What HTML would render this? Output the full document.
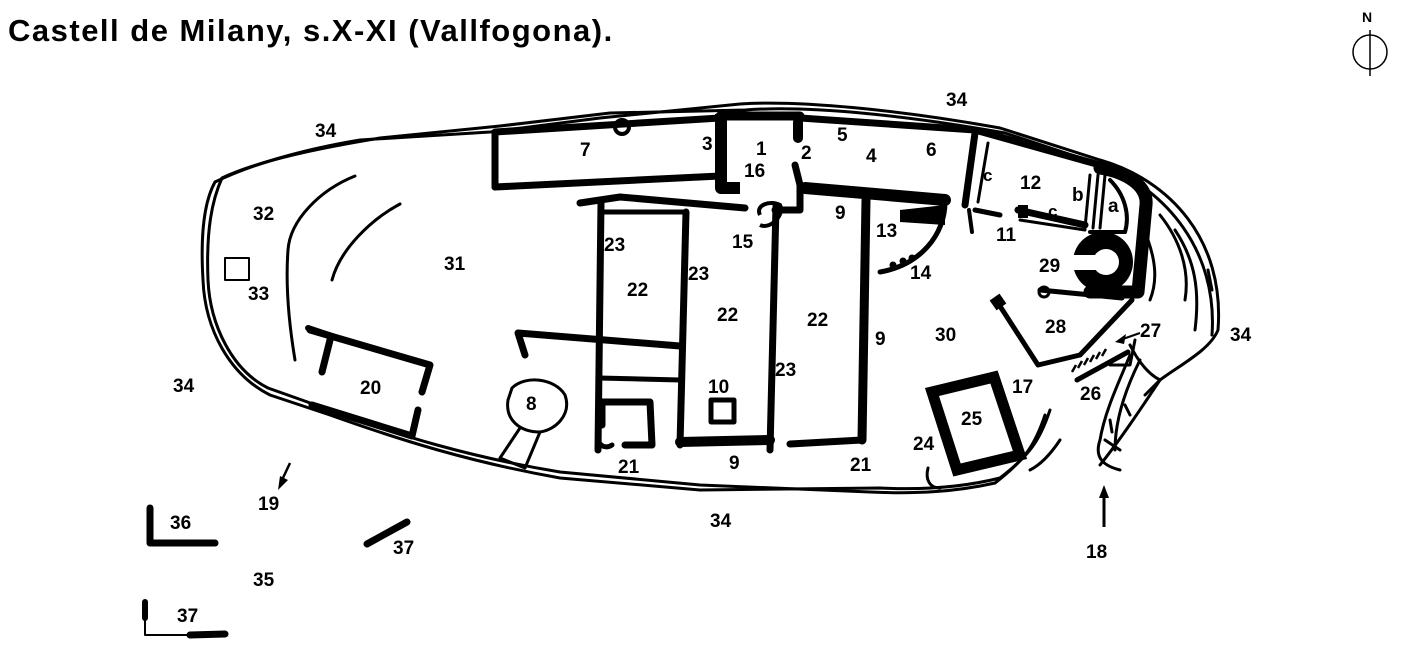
<!DOCTYPE html>
<html><head><meta charset="utf-8"><style>
html,body{margin:0;padding:0;background:#fff;}
svg{display:block}
text{font-family:"Liberation Sans",sans-serif;font-weight:bold;fill:#000}
</style></head><body>
<svg width="1416" height="672" viewBox="0 0 1416 672">
<text x="8" y="41" font-size="31" letter-spacing="1.5">Castell de Milany, s.X-XI (Vallfogona).</text>
<!-- north -->
<text x="1362" y="22" font-size="14">N</text>
<circle cx="1370" cy="52" r="17" fill="none" stroke="#000" stroke-width="1.5"/>
<line x1="1370" y1="30" x2="1370" y2="76" stroke="#000" stroke-width="1.5"/>

<g fill="none" stroke="#000" stroke-width="3" stroke-linecap="round" stroke-linejoin="round">
<path d="M215 182 C250 165 300 150 360 140 L490 132 L600 118 L740 104 C800 100 900 110 1000 128 L1100 160 C1170 180 1225 240 1218 330 C1210 350 1180 365 1160 380 C1140 410 1120 440 1100 465 M1050 410 C1040 440 1030 455 1000 478 C960 488 920 490 880 488 L700 490 L560 478 C470 462 400 440 330 415 L270 395 C230 375 205 330 203 280 C200 230 205 200 215 182"/>
<path d="M222 178 C260 160 320 148 380 138 L500 126 L610 113 L745 110 C810 105 910 116 1005 133 L1105 166 C1165 190 1218 250 1212 335 M1045 415 C1035 445 1025 460 995 483 C955 492 915 494 870 492 L700 485 L560 472 C470 457 400 436 330 410 L268 388 C232 370 210 325 208 280 C206 230 212 200 222 178"/>
<path d="M355 176 C320 190 290 220 288 250 C285 290 290 330 295 360"/>
<path d="M400 204 C370 220 340 250 332 280"/>
<rect x="225" y="258" width="24" height="22" stroke-width="2"/>
<path d="M512 388 C525 375 555 378 565 395 C572 415 555 430 540 432 C520 432 505 420 508 400 Z"/>
<path d="M520 428 L500 458 L525 468 L540 432"/>
<path d="M1160 215 C1180 240 1190 270 1185 300"/>
<path d="M1175 230 C1195 260 1200 290 1195 330"/>
<path d="M1148 240 C1155 260 1158 280 1150 300"/>
<path d="M1208 270 L1212 290"/>
<path d="M1135 340 L1130 365 L1110 365 M1130 355 C1120 380 1105 410 1100 440 C1095 455 1100 465 1120 470"/>
<path d="M1130 345 C1140 365 1150 375 1160 380 L1145 395 M1140 360 C1125 390 1115 420 1115 450 M1125 405 L1130 415 M1110 420 L1112 432 M1105 440 L1120 450"/>
<path d="M1060 440 C1050 455 1040 465 1030 470"/>
<path d="M928 468 C925 480 930 488 940 488"/>
</g>

<g fill="none" stroke="#000" stroke-width="7" stroke-linecap="round" stroke-linejoin="round">
<path d="M495 187 L495 132 L720 118"/>
<path d="M495 187 L720 176"/>
<path d="M800 118 L975 130 L1100 165"/>
<line x1="975" y1="133" x2="965" y2="205"/>
<line x1="969" y1="210" x2="972" y2="232" stroke-width="4"/>
<line x1="975" y1="210" x2="1000" y2="215" stroke-width="5"/>
<path d="M721 114 L721 188 L740 188" stroke-width="12" stroke-linecap="butt"/>
<line x1="720" y1="116" x2="800" y2="116" stroke-width="9"/>
<line x1="798" y1="122" x2="798" y2="138" stroke-width="10"/>
<path d="M795 165 L800 185 L800 210 L775 210"/>
<path d="M805 188 L945 200" stroke-width="12"/>
<path d="M945 202 C945 235 920 265 880 272" stroke-width="5"/>
<line x1="866" y1="200" x2="862" y2="440" stroke-width="9"/>
<line x1="776" y1="206" x2="770" y2="450"/>
<line x1="686" y1="212" x2="680" y2="445"/>
<line x1="601" y1="203" x2="598" y2="450"/>
<path d="M580 203 L620 197 L745 208"/>
<line x1="601" y1="212" x2="685" y2="212" stroke-width="5"/>
<path d="M525 355 L518 333 L680 346"/>
<line x1="599" y1="378" x2="680" y2="380" stroke-width="5"/>
<path d="M602 425 L602 402 L650 402 L652 445 L625 445"/>
<line x1="680" y1="442" x2="770" y2="440" stroke-width="10"/>
<line x1="790" y1="444" x2="862" y2="440"/>
<path d="M598 430 C595 445 605 450 612 445" stroke-width="5"/>
<rect x="711" y="400" width="23" height="22" stroke-width="5"/>
<path d="M310 330 L430 365 L422 392"/>
<path d="M330 340 L322 372" />
<path d="M312 405 L412 436 L418 410"/>
<path d="M932 392 L994 377 L1020 455 L957 470 Z" stroke-width="11" stroke-linejoin="miter"/>
<path d="M1018 210 L1085 225" />
<line x1="988" y1="143" x2="978" y2="202" stroke-width="3"/>
<line x1="1020" y1="220" x2="1085" y2="230" stroke-width="3"/>
<line x1="1090" y1="175" x2="1085" y2="228" stroke-width="3"/>
<line x1="1098" y1="175" x2="1093" y2="228" stroke-width="3"/>
<line x1="1105" y1="175" x2="1100" y2="228" stroke-width="3"/>
<path d="M996 300 L1038 365 L1080 355 L1132 300" stroke-width="5"/>
<path d="M1040 290 L1122 298" stroke-width="5"/>
<path d="M1077 380 L1128 352" stroke-width="5"/>
<path d="M150 508 L150 543 L215 543"/>
<line x1="367" y1="544" x2="407" y2="522"/>
<path d="M145 602 L145 618" stroke-width="6"/>
<path d="M145 618 L145 635 L190 635" stroke-width="2"/>
<line x1="190" y1="635" x2="225" y2="634"/>
<line x1="308" y1="328" x2="332" y2="336" stroke-width="6"/>
<!-- tower a -->
<path d="M1100 168 C1125 172 1148 185 1146 205 L1138 292 L1090 292" stroke-width="13"/>
<path d="M1090 232 L1125 232 C1130 215 1125 195 1110 180" stroke-width="4"/>
</g>
<circle cx="1044" cy="292" r="5" fill="none" stroke="#000" stroke-width="3"/>
<rect x="992" y="296" width="12" height="12" fill="#000" transform="rotate(-35 998 302)"/>
<path d="M900 210 L945 205 L945 225 L900 222 Z" fill="#000"/>
<circle cx="622" cy="127" r="7" fill="none" stroke="#000" stroke-width="4"/>
<path d="M760 215 C755 205 770 200 780 205 C785 215 770 230 760 225" fill="none" stroke="#000" stroke-width="4"/>
<circle cx="893" cy="265" r="3.5"/><circle cx="903" cy="261" r="3.5"/><circle cx="912" cy="258" r="3.5"/>
<path d="M1018 205 L1028 205 L1028 218 L1018 218 Z"/>
<!-- tower 29 -->
<circle cx="1103" cy="262" r="30"/>
<rect x="1066" y="255" width="36" height="15" fill="#fff"/>
<circle cx="1106" cy="262" r="13" fill="#fff"/>
<g stroke="#000" stroke-width="2.5">
<line x1="1072" y1="372" x2="1076" y2="365"/><line x1="1078" y1="368" x2="1082" y2="361"/><line x1="1084" y1="365" x2="1088" y2="358"/><line x1="1090" y1="362" x2="1094" y2="355"/><line x1="1096" y1="359" x2="1100" y2="352"/><line x1="1102" y1="356" x2="1106" y2="349"/>
</g>
<path d="M1140 333 L1120 340" stroke="#000" stroke-width="2"/><path d="M1115 342 L1126 334 L1124 344 Z"/>
<path d="M290 463 L282 480" stroke="#000" stroke-width="2.5"/><path d="M278 490 L280 476 L288 480 Z"/>
<path d="M1104 527 L1104 495" stroke="#000" stroke-width="3"/><path d="M1104 485 L1099 498 L1109 498 Z"/>

<g font-size="19">
<text x="315" y="137">34</text><text x="946" y="106">34</text><text x="1230" y="341">34</text><text x="173" y="392">34</text><text x="710" y="527">34</text>
<text x="580" y="156">7</text><text x="702" y="150">3</text><text x="756" y="155">1</text><text x="801" y="159">2</text>
<text x="744" y="177">16</text><text x="837" y="141">5</text><text x="866" y="162">4</text><text x="926" y="156">6</text>
<text x="983" y="181" font-size="17">c</text><text x="1020" y="189">12</text><text x="1072" y="201">b</text><text x="1048" y="217" font-size="17">c</text><text x="1108" y="212">a</text>
<text x="996" y="241">11</text><text x="1039" y="272">29</text><text x="253" y="220">32</text><text x="248" y="300">33</text><text x="444" y="270">31</text>
<text x="835" y="219">9</text><text x="876" y="237">13</text><text x="910" y="279">14</text><text x="732" y="248">15</text>
<text x="604" y="251">23</text><text x="688" y="280">23</text><text x="627" y="296">22</text><text x="717" y="321">22</text><text x="807" y="326">22</text>
<text x="875" y="345">9</text><text x="935" y="341">30</text><text x="1045" y="333">28</text><text x="1140" y="337">27</text>
<text x="775" y="376">23</text><text x="360" y="394">20</text><text x="708" y="393">10</text><text x="526" y="410">8</text>
<text x="1012" y="393">17</text><text x="1080" y="400">26</text><text x="961" y="425">25</text><text x="913" y="450">24</text>
<text x="618" y="473">21</text><text x="729" y="469">9</text><text x="850" y="471">21</text>
<text x="258" y="510">19</text><text x="170" y="529">36</text><text x="393" y="554">37</text><text x="253" y="586">35</text><text x="177" y="622">37</text><text x="1086" y="558">18</text>
</g>
</svg>
</body></html>
